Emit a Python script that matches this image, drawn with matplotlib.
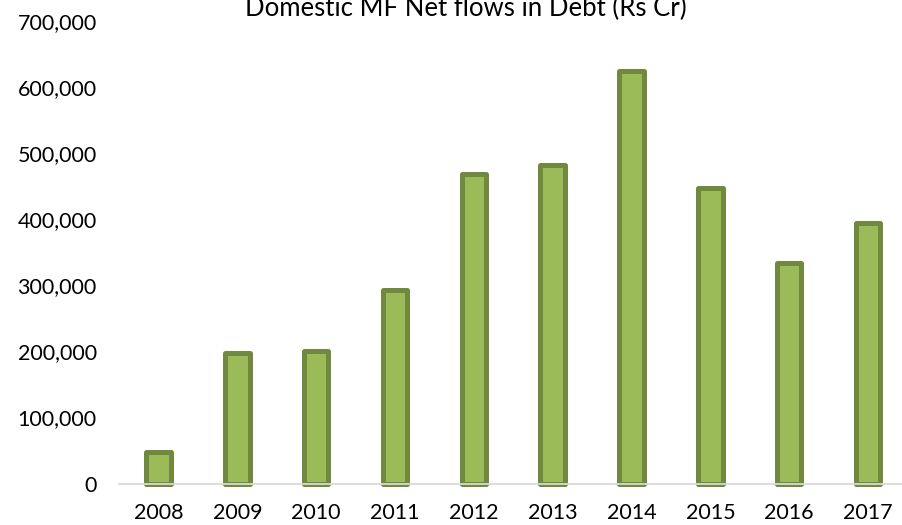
import numpy as np
import matplotlib
matplotlib.use('Agg')
import matplotlib.pyplot as plt
from matplotlib.ticker import FuncFormatter

years = ['2008', '2009', '2010', '2011', '2012', '2013', '2014', '2015', '2016', '2017']
net_flows = [47000, 197000, 201000, 293000, 468000, 482000, 624000, 447500, 333000, 394000]

plt.rcParams['font.family'] = ['Lato', 'DejaVu Sans']

fig = plt.figure(figsize=(9.02, 5.25), dpi=100)
ax = fig.add_axes([0.132, 0.079, 0.874, 0.881])

x = np.arange(len(years))
ax.bar(x, net_flows, width=0.31, color='#9BBB59', edgecolor='#71893F',
       linewidth=3.6, joinstyle='round', clip_on=False, zorder=2)

# horizontal category axis line over the bar bottoms
ax.axhline(0, color='#D9D9D9', linewidth=1.3, zorder=3, clip_on=False)

ax.set_xlim(-0.5, len(years) - 0.5)
ax.set_ylim(0, 700000)
ax.set_yticks(np.arange(0, 700001, 100000))
ax.yaxis.set_major_formatter(FuncFormatter(lambda v, p: f'{int(v):,}'))
ax.set_xticks(x)
ax.set_xticklabels(years)

ax.tick_params(axis='both', length=0, labelsize=15.5, colors='black')
ax.tick_params(axis='y', pad=16)
ax.tick_params(axis='x', pad=14)
for s in ax.spines.values():
    s.set_visible(False)

fig.text(466 / 902, 1 - 16.5 / 525, 'Domestic MF Net flows in Debt (Rs Cr)',
         ha='center', va='baseline', fontsize=18.5)

fig.savefig('out.png', dpi=100)
